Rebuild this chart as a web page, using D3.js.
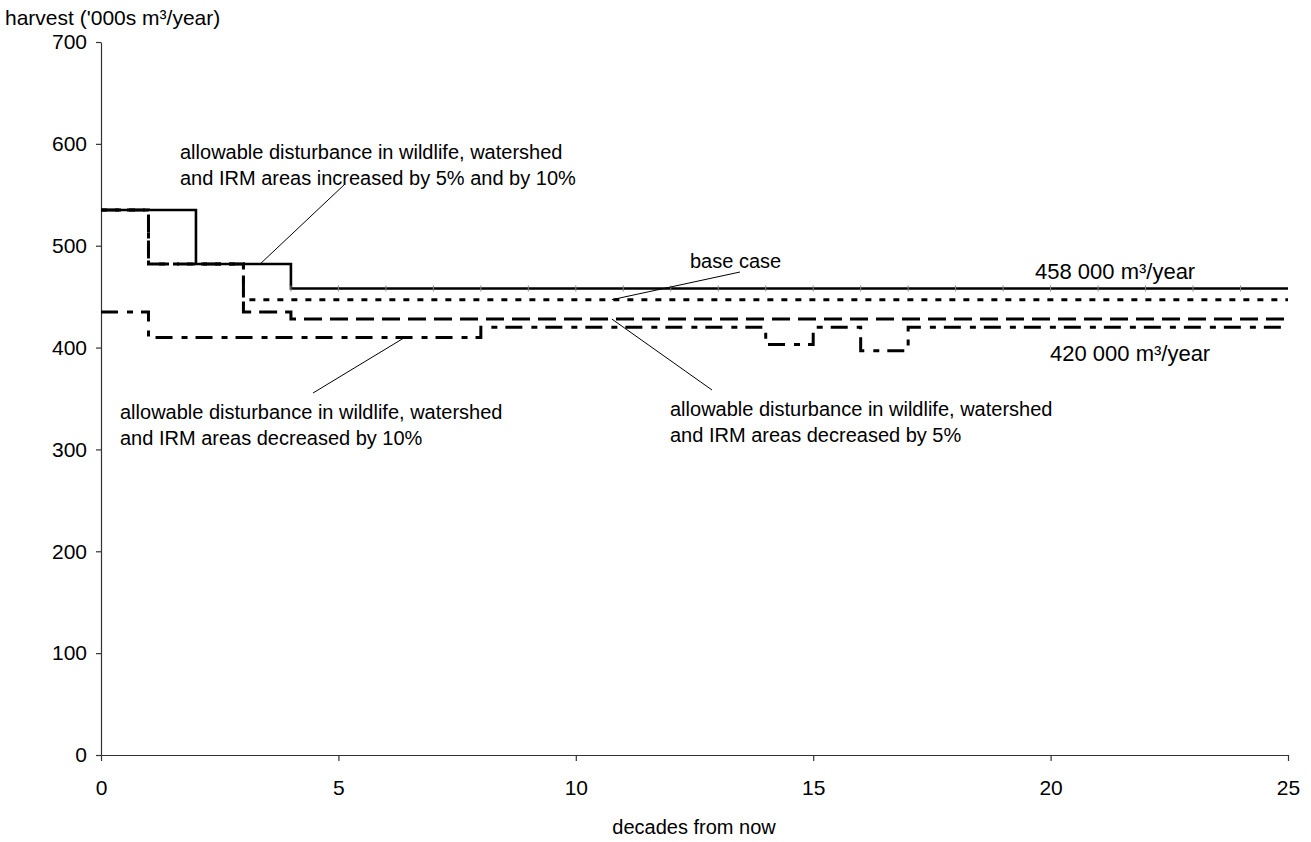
<!DOCTYPE html>
<html>
<head>
<meta charset="utf-8">
<script src="https://cdn.jsdelivr.net/npm/d3@7"></script>
<style>
  body { margin: 0; background: #fff; }
  text { font-family: "Liberation Sans", Arial, sans-serif; fill: #000; }
</style>
</head>
<body>
<div id="chart"></div>
<script>
// harvest per decade (value holds from decade i to i+1), '000s m3/year
var decades = d3.range(0, 26);
var increased = [535, 535, 482, 482, 458, 458, 458, 458, 458, 458, 458, 458, 458,
    458, 458, 458, 458, 458, 458, 458, 458, 458, 458, 458, 458];
var baseCase = [535, 482, 482, 447, 447, 447, 447, 447, 447, 447, 447, 447, 447,
    447, 447, 447, 447, 447, 447, 447, 447, 447, 447, 447, 447];
var decreased5 = [535, 482, 482, 435, 428, 428, 428, 428, 428, 428, 428, 428, 428,
    428, 428, 428, 428, 428, 428, 428, 428, 428, 428, 428, 428];
var decreased10 = [435, 410, 410, 410, 410, 410, 410, 410, 420, 420, 420, 420, 420,
    420, 403, 420, 397, 420, 420, 420, 420, 420, 420, 420, 420];
var yTicks = [0, 100, 200, 300, 400, 500, 600, 700];
var xTicks = [0, 5, 10, 15, 20, 25];

var svg = d3.select('#chart')
    .append('svg')
    .attr('width', 1311)
    .attr('height', 842);

var x = d3.scaleLinear().domain([0, 25]).range([101, 1288]);
var y = d3.scaleLinear().domain([0, 700]).range([755, 42]);

// axes
var yAxis = svg.append('g')
    .attr('transform', 'translate(' + x(0) + ',0)')
    .call(d3.axisLeft(y).tickValues(yTicks).tickSize(5).tickSizeOuter(0).tickPadding(9));
var xAxis = svg.append('g')
    .attr('transform', 'translate(0,' + y(0) + ')')
    .call(d3.axisBottom(x).tickValues(xTicks).tickSize(6).tickSizeOuter(0).tickPadding(19));
[yAxis, xAxis].forEach(function (a) {
    a.selectAll('path, line').attr('stroke', '#333').attr('stroke-width', 1.2);
    a.selectAll('text').style('font-size', '21px').style('font-family', '"Liberation Sans", Arial, sans-serif').attr('fill', '#000');
});

svg.append('text')
    .attr('x', 5)
    .attr('y', 25)
    .style('font-size', '21px')
    .text("harvest ('000s m³/year)");
svg.append('text')
    .attr('x', 694)
    .attr('y', 834)
    .attr('text-anchor', 'middle')
    .style('font-size', '20px')
    .text('decades from now');

// step lines
var line = d3.line()
    .x(function (d) { return x(d.t); })
    .y(function (d) { return y(d.v); })
    .curve(d3.curveStepAfter);

function steps(values) {
    return decades.map(function (t, i) {
        return { t: t, v: values[Math.min(i, values.length - 1)] };
    });
}

var series = [
    { values: increased, dash: null, width: 2.6 },
    { values: decreased10, dash: '17,9,6,8', width: 3 },
    { values: decreased5, dash: '18,8', width: 3 },
    { values: baseCase, dash: '6,8', width: 3 }
];

series.forEach(function (s) {
    svg.append('path')
        .datum(steps(s.values))
        .attr('d', line)
        .attr('fill', 'none')
        .attr('stroke', '#000')
        .attr('stroke-width', s.width)
        .attr('stroke-dasharray', s.dash);
});

// little grey markers on the solid line
svg.selectAll('.mark')
    .data(decades.filter(function (t) { return t >= 4 && t < 25; }))
    .enter()
    .append('line')
    .attr('x1', function (t) { return x(t); })
    .attr('x2', function (t) { return x(t); })
    .attr('y1', function (t) { return y(increased[t]) - 3; })
    .attr('y2', function (t) { return y(increased[t]) + 3; })
    .attr('stroke', '#888')
    .attr('stroke-width', 1);

// annotations
function leader(x1, y1, x2, y2) {
    svg.append('line')
        .attr('x1', x1).attr('y1', y1)
        .attr('x2', x2).attr('y2', y2)
        .attr('stroke', '#000')
        .attr('stroke-width', 1);
}
function label(lines, px, py, size) {
    lines.forEach(function (t, i) {
        svg.append('text')
            .attr('x', px)
            .attr('y', py + i * 26)
            .style('font-size', size + 'px')
            .text(t);
    });
}

label(['allowable disturbance in wildlife, watershed',
    'and IRM areas increased by 5% and by 10%'], 180, 159, 20);
leader(345, 184, x(3.35), y(482));

label(['base case'], 690, 268, 20);
leader(740, 272, x(10.76), y(447));

label(['458 000 m³/year'], 1035, 279, 22);
label(['420 000 m³/year'], 1050, 361, 22);

label(['allowable disturbance in wildlife, watershed',
    'and IRM areas decreased by 5%'], 670, 416, 20);
leader(712, 390, x(10.76), y(428));

label(['allowable disturbance in wildlife, watershed',
    'and IRM areas decreased by 10%'], 120, 419, 20);
leader(313, 393, x(6.4), y(410));
</script>
</body>
</html>
